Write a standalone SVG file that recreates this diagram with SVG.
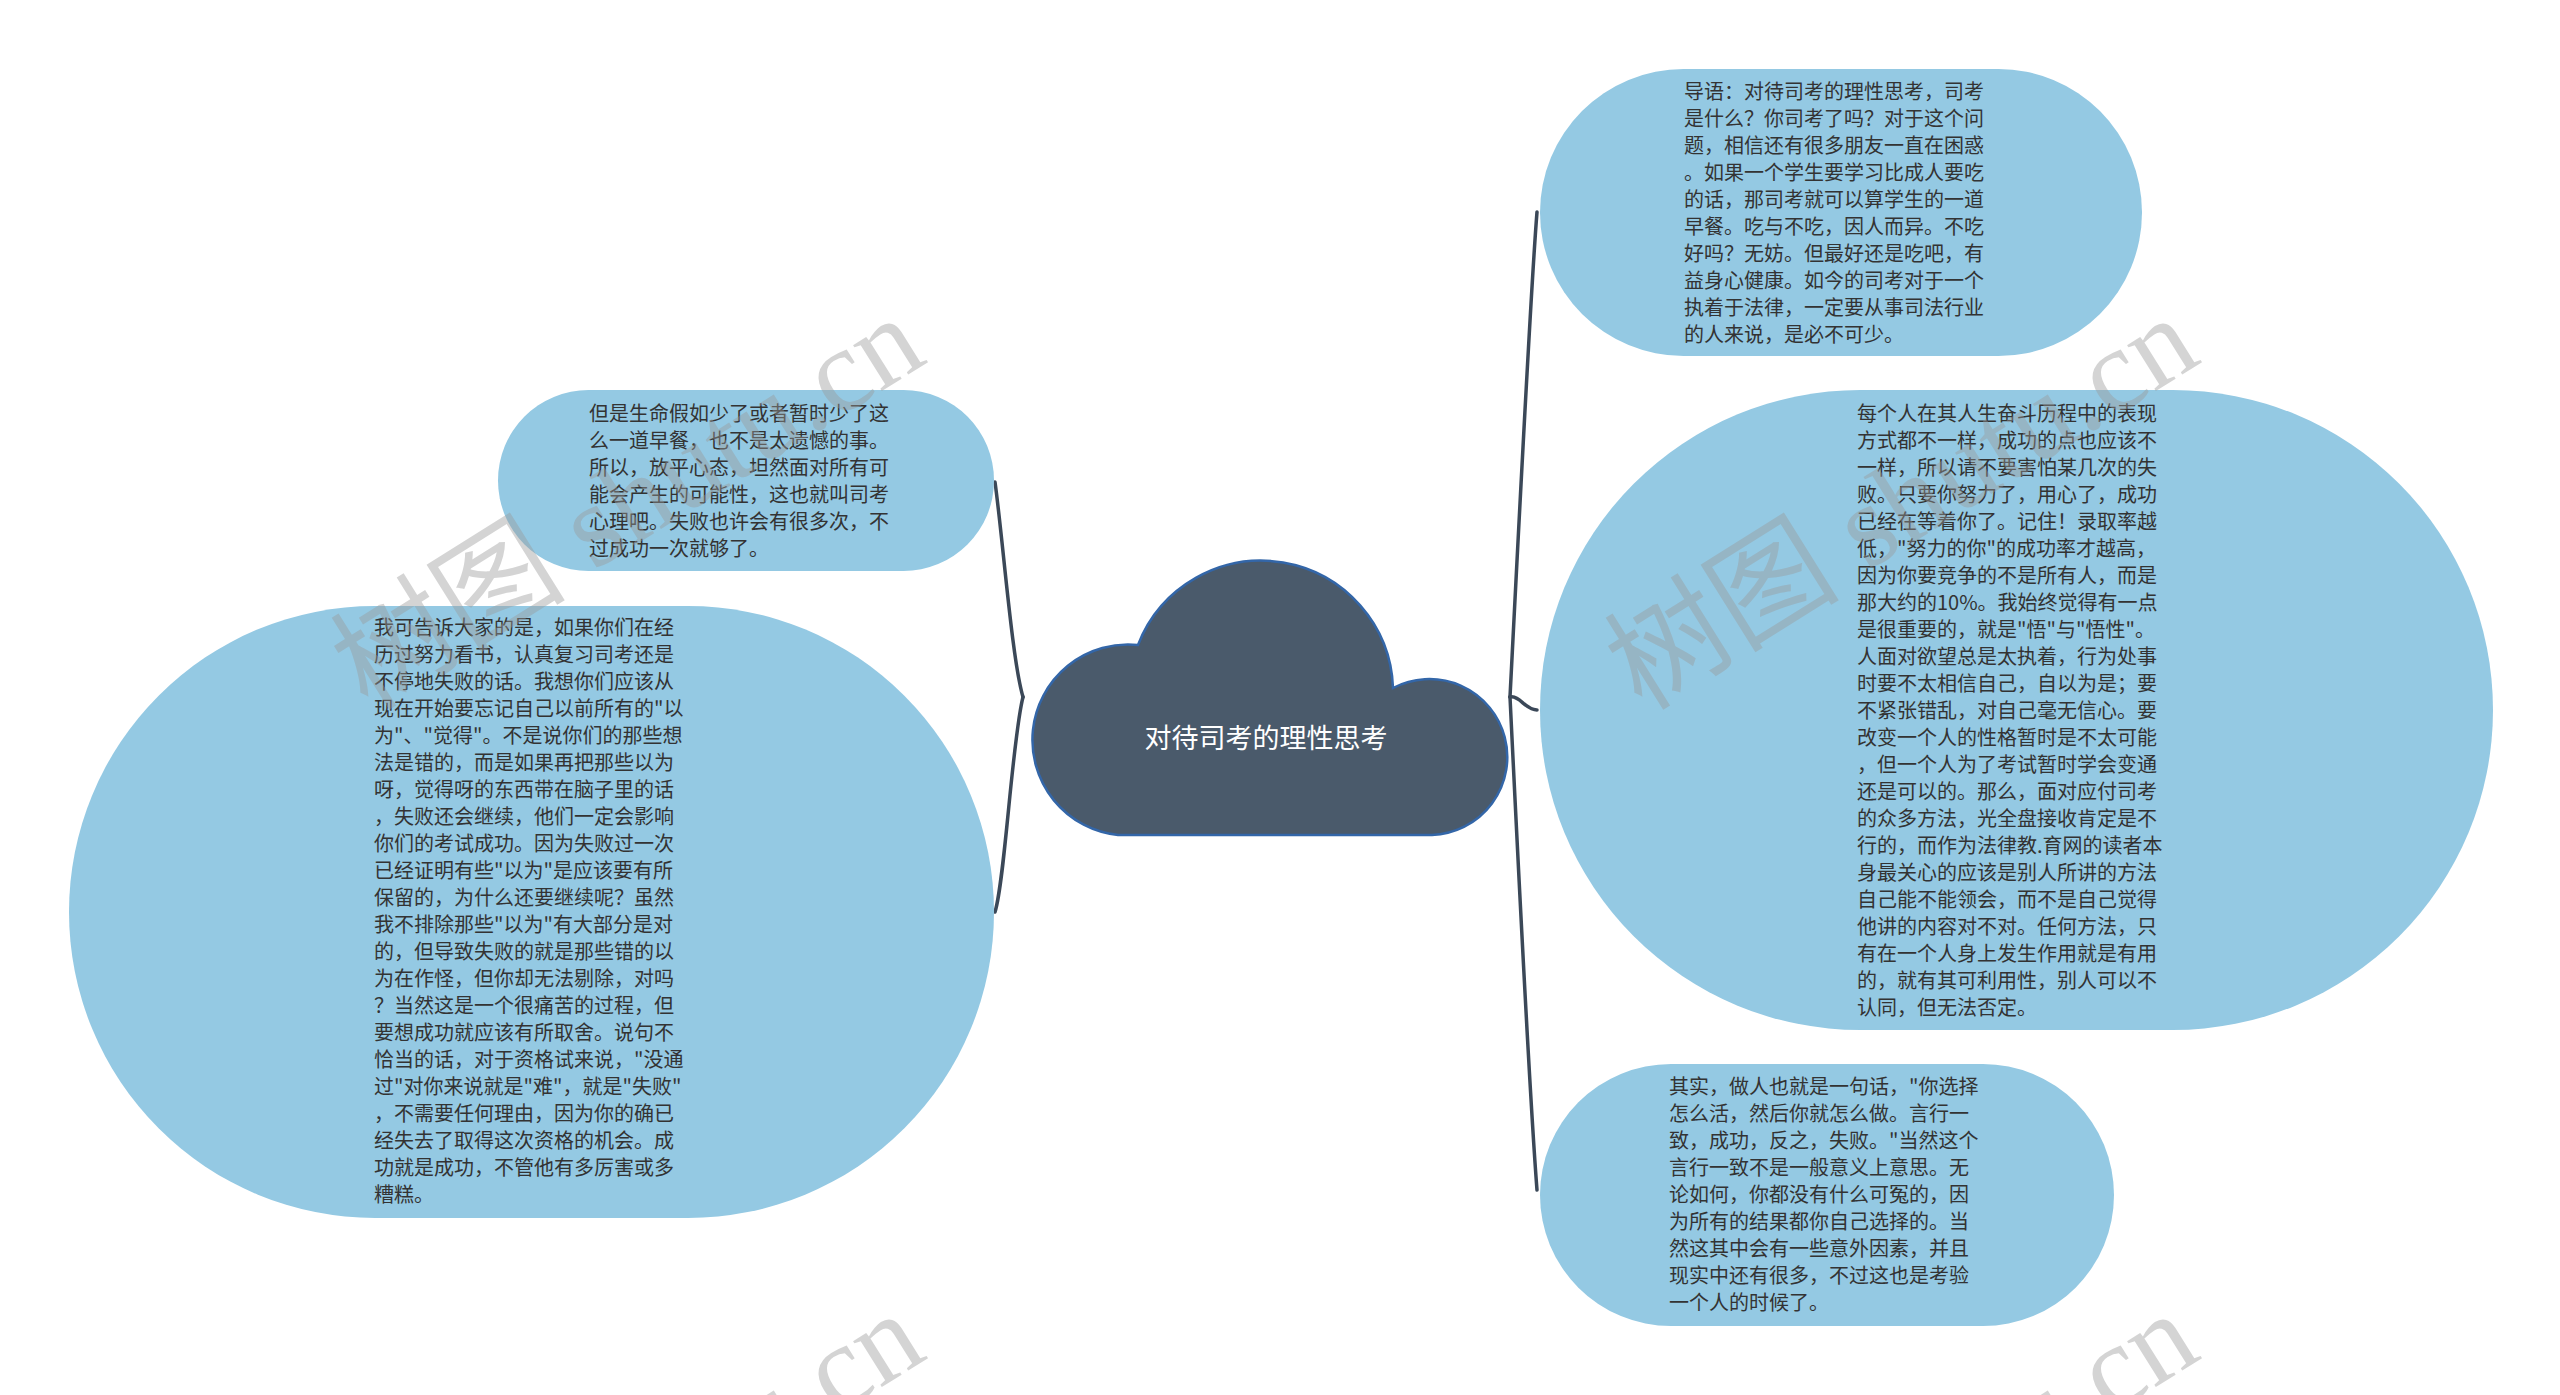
<svg xmlns="http://www.w3.org/2000/svg" width="2560" height="1395" viewBox="0 0 2560 1395">
<style>
.node{fill:#94c9e3;}
.t{font-family:"Noto Sans CJK SC","Noto Sans",sans-serif;font-size:20px;fill:#333333;}
.ct{font-family:"Noto Sans CJK SC","Noto Sans",sans-serif;font-size:27px;fill:#ffffff;}
.edge{fill:none;stroke:#3b4858;stroke-width:3.5;stroke-linecap:round;}
.wm{font-family:"Liberation Serif","Noto Sans CJK SC",serif;font-size:118px;fill:#9a9a9a;opacity:0.42;}
</style>
<rect width="2560" height="1395" fill="#ffffff"/>
<g id="connectors">
<path class="edge" d="M1023,697 C1012,660 1003,540 995,482"/>
<path class="edge" d="M1023,697 C1012,740 1005,880 995,912"/>
<path class="edge" d="M1510,697 C1515,600 1530,300 1537,212"/>
<path class="edge" d="M1510,697 C1520,695 1525,710 1537,710"/>
<path class="edge" d="M1510,697 C1515,800 1530,1100 1537,1190"/>
</g>
<g id="center">
<path d="M1118,835 A95,95 0 1 1 1138,645 A132,132 0 0 1 1393,688 A78,78 0 1 1 1432,835 Z" fill="#4a5a6b" stroke="#3366a8" stroke-width="2.5"/>
<text class="ct" x="1266" y="748" text-anchor="middle">对待司考的理性思考</text>
</g>
<g id="node-a">
<rect class="node" x="1540" y="69" width="602" height="287" rx="143.5"/>
<text class="t" x="1684" y="98.5"><tspan x="1684">导语：对待司考的理性思考，司考</tspan><tspan x="1684" dy="27">是什么？你司考了吗？对于这个问</tspan><tspan x="1684" dy="27">题，相信还有很多朋友一直在困惑</tspan><tspan x="1684" dy="27">。如果一个学生要学习比成人要吃</tspan><tspan x="1684" dy="27">的话，那司考就可以算学生的一道</tspan><tspan x="1684" dy="27">早餐。吃与不吃，因人而异。不吃</tspan><tspan x="1684" dy="27">好吗？无妨。但最好还是吃吧，有</tspan><tspan x="1684" dy="27">益身心健康。如今的司考对于一个</tspan><tspan x="1684" dy="27">执着于法律，一定要从事司法行业</tspan><tspan x="1684" dy="27">的人来说，是必不可少。</tspan></text>
</g>
<g id="node-b">
<rect class="node" x="1540" y="390" width="953" height="640" rx="320"/>
<text class="t" x="1857" y="420.5"><tspan x="1857">每个人在其人生奋斗历程中的表现</tspan><tspan x="1857" dy="27">方式都不一样，成功的点也应该不</tspan><tspan x="1857" dy="27">一样，所以请不要害怕某几次的失</tspan><tspan x="1857" dy="27">败。只要你努力了，用心了，成功</tspan><tspan x="1857" dy="27">已经在等着你了。记住！录取率越</tspan><tspan x="1857" dy="27">低，"努力的你"的成功率才越高，</tspan><tspan x="1857" dy="27">因为你要竞争的不是所有人，而是</tspan><tspan x="1857" dy="27">那大约的10%。我始终觉得有一点</tspan><tspan x="1857" dy="27">是很重要的，就是"悟"与"悟性"。</tspan><tspan x="1857" dy="27">人面对欲望总是太执着，行为处事</tspan><tspan x="1857" dy="27">时要不太相信自己，自以为是；要</tspan><tspan x="1857" dy="27">不紧张错乱，对自己毫无信心。要</tspan><tspan x="1857" dy="27">改变一个人的性格暂时是不太可能</tspan><tspan x="1857" dy="27">，但一个人为了考试暂时学会变通</tspan><tspan x="1857" dy="27">还是可以的。那么，面对应付司考</tspan><tspan x="1857" dy="27">的众多方法，光全盘接收肯定是不</tspan><tspan x="1857" dy="27">行的，而作为法律教.育网的读者本</tspan><tspan x="1857" dy="27">身最关心的应该是别人所讲的方法</tspan><tspan x="1857" dy="27">自己能不能领会，而不是自己觉得</tspan><tspan x="1857" dy="27">他讲的内容对不对。任何方法，只</tspan><tspan x="1857" dy="27">有在一个人身上发生作用就是有用</tspan><tspan x="1857" dy="27">的，就有其可利用性，别人可以不</tspan><tspan x="1857" dy="27">认同，但无法否定。</tspan></text>
</g>
<g id="node-c">
<rect class="node" x="1540" y="1064" width="574" height="262" rx="131"/>
<text class="t" x="1669" y="1093.5"><tspan x="1669">其实，做人也就是一句话，"你选择</tspan><tspan x="1669" dy="27">怎么活，然后你就怎么做。言行一</tspan><tspan x="1669" dy="27">致，成功，反之，失败。"当然这个</tspan><tspan x="1669" dy="27">言行一致不是一般意义上意思。无</tspan><tspan x="1669" dy="27">论如何，你都没有什么可冤的，因</tspan><tspan x="1669" dy="27">为所有的结果都你自己选择的。当</tspan><tspan x="1669" dy="27">然这其中会有一些意外因素，并且</tspan><tspan x="1669" dy="27">现实中还有很多，不过这也是考验</tspan><tspan x="1669" dy="27">一个人的时候了。</tspan></text>
</g>
<g id="node-d">
<rect class="node" x="498" y="390" width="496" height="181" rx="90.5"/>
<text class="t" x="589" y="421"><tspan x="589">但是生命假如少了或者暂时少了这</tspan><tspan x="589" dy="27">么一道早餐，也不是太遗憾的事。</tspan><tspan x="589" dy="27">所以，放平心态，坦然面对所有可</tspan><tspan x="589" dy="27">能会产生的可能性，这也就叫司考</tspan><tspan x="589" dy="27">心理吧。失败也许会有很多次，不</tspan><tspan x="589" dy="27">过成功一次就够了。</tspan></text>
</g>
<g id="node-e">
<rect class="node" x="69" y="606" width="925" height="612" rx="306"/>
<text class="t" x="374" y="635"><tspan x="374">我可告诉大家的是，如果你们在经</tspan><tspan x="374" dy="27">历过努力看书，认真复习司考还是</tspan><tspan x="374" dy="27">不停地失败的话。我想你们应该从</tspan><tspan x="374" dy="27">现在开始要忘记自己以前所有的"以</tspan><tspan x="374" dy="27">为"、"觉得"。不是说你们的那些想</tspan><tspan x="374" dy="27">法是错的，而是如果再把那些以为</tspan><tspan x="374" dy="27">呀，觉得呀的东西带在脑子里的话</tspan><tspan x="374" dy="27">，失败还会继续，他们一定会影响</tspan><tspan x="374" dy="27">你们的考试成功。因为失败过一次</tspan><tspan x="374" dy="27">已经证明有些"以为"是应该要有所</tspan><tspan x="374" dy="27">保留的，为什么还要继续呢？虽然</tspan><tspan x="374" dy="27">我不排除那些"以为"有大部分是对</tspan><tspan x="374" dy="27">的，但导致失败的就是那些错的以</tspan><tspan x="374" dy="27">为在作怪，但你却无法剔除，对吗</tspan><tspan x="374" dy="27">？当然这是一个很痛苦的过程，但</tspan><tspan x="374" dy="27">要想成功就应该有所取舍。说句不</tspan><tspan x="374" dy="27">恰当的话，对于资格试来说，"没通</tspan><tspan x="374" dy="27">过"对你来说就是"难"，就是"失败"</tspan><tspan x="374" dy="27">，不需要任何理由，因为你的确已</tspan><tspan x="374" dy="27">经失去了取得这次资格的机会。成</tspan><tspan x="374" dy="27">功就是成功，不管他有多厉害或多</tspan><tspan x="374" dy="27">糟糕。</tspan></text>
</g>
<g id="watermarks">
<text class="wm" transform="translate(368,712) rotate(-32)">树图 shutu.cn</text>
<text class="wm" transform="translate(1642,712) rotate(-32)">树图 shutu.cn</text>
<text class="wm" transform="translate(368,1708) rotate(-32)">树图 shutu.cn</text>
<text class="wm" transform="translate(1642,1708) rotate(-32)">树图 shutu.cn</text>
</g>
</svg>
